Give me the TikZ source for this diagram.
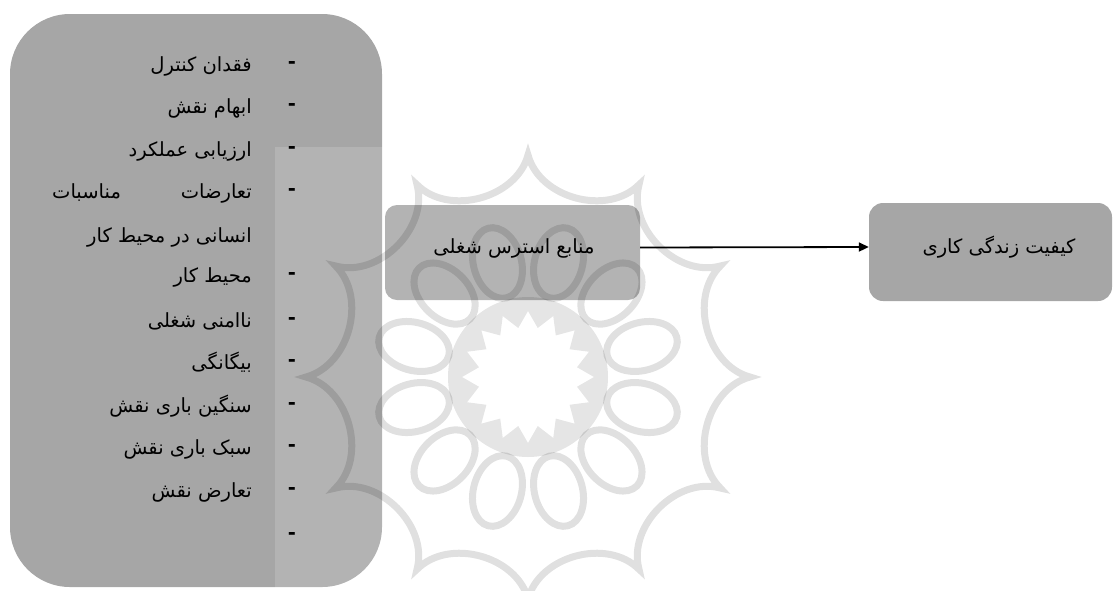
\documentclass[tikz,border=0pt]{standalone}
\usepackage{fontspec}
\newfontfamily\arabicfont[Script=Arabic]{DejaVu Sans}
\TeXXeTstate=1
\usetikzlibrary{arrows.meta}
\definecolor{boxgray}{RGB}{166,166,166}
\begin{document}
\begin{tikzpicture}[x=1pt,y=-1pt,
  txt/.style={font=\arabicfont\fontsize{19.5}{22}\selectfont, inner sep=0pt},
  boxshape/.style={fill=boxgray, draw=none, inner sep=0pt, rounded corners=#1},
  item/.style={txt, anchor=base east},
  itemw/.style={txt, anchor=base west},
  dashmark/.style={font=\arabicfont\bfseries\fontsize{19.5}{22}\selectfont, inner sep=0pt, anchor=base},
  boxtext/.style={txt},
  flow/.style={draw=black, line width=1.8pt, -{Triangle[length=10pt,width=9pt]}}]
\useasboundingbox (0,0) rectangle (1115,590);
% boxes
\node[boxshape=60pt, minimum width=372pt, minimum height=573pt] (L) at (196,300.5) {};
\node[boxshape=12pt, minimum width=255pt, minimum height=95pt] (M) at (512.5,252.5) {};
\node[boxshape=14pt, minimum width=243pt, minimum height=98pt] (K) at (990.5,252) {};
% watermark
\fill[white, opacity=0.15] (275,147) rectangle (778,590);
\begin{scope}[shift={(528,377)}]
\path[draw=black, draw opacity=0.12, line width=7pt, line join=miter, miter limit=25]
  (90:222) \foreach \k in {1,...,12} { to[bend right=60] (90+30*\k:222) }
  \foreach \k in {0,...,11} { (105+30*\k:118) circle[x radius=24pt, y radius=36pt, rotate=-195-30*\k] };
\fill[black, opacity=0.10, even odd rule] (0,0) circle[radius=80pt]
  (90:66) \foreach \k in {1,...,15} { -- (90+22.5*\k-11.25:50) -- (90+22.5*\k:66) } -- (90+22.5*16-11.25:50) -- cycle;
\end{scope}
% list
\node[item] (t1) at (252,71) {\beginR فقدان کنترل\endR};
\node[item] (t2) at (252,113) {\beginR ابهام نقش\endR};
\node[item] (t3) at (252,156) {\beginR ارزیابی عملکرد\endR};
\node[item] (t4a) at (252,198) {\beginR تعارضات\endR};
\node[itemw] (t4b) at (52,198) {\beginR مناسبات\endR};
\node[item] (t4c) at (252,242) {\beginR انسانی در محیط کار\endR};
\node[item] (t5) at (252,282) {\beginR محیط کار\endR};
\node[item] (t6) at (252,327) {\beginR ناامنی شغلی\endR};
\node[item] (t7) at (252,369) {\beginR بیگانگی\endR};
\node[item] (t8) at (252,412) {\beginR سنگین باری نقش\endR};
\node[item] (t9) at (252,454) {\beginR سبک باری نقش\endR};
\node[item] (t10) at (252,497) {\beginR تعارض نقش\endR};
\foreach \y [count=\i] in {62,104,147,189,273,318,360,403,445,488,533}
  \node[dashmark] (d\i) at (292,\y+6) {-};
% box texts
\node[boxtext] (mt) at (514,248) {\beginR منابع استرس شغلی\endR};
\node[boxtext] (kt) at (999,247) {\beginR کیفیت زندگی کاری\endR};
% connector
\draw[flow] ([yshift=5pt]M.east) -- ([yshift=5pt]K.west);
\end{tikzpicture}
\end{document}
